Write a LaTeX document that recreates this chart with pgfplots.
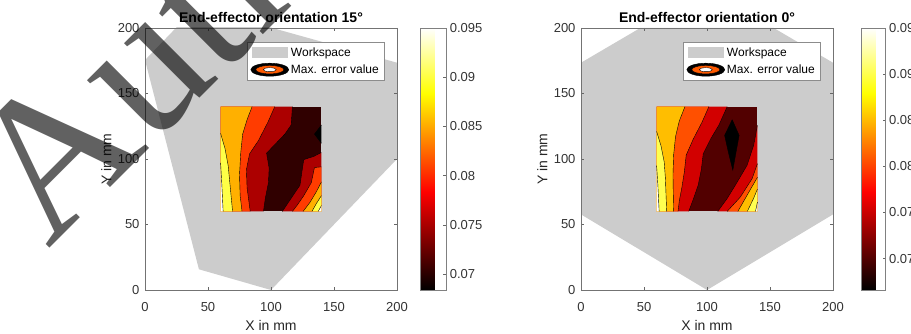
\documentclass[border=0pt]{standalone}
\usepackage{fontspec}
\setmainfont{Liberation Sans}
\newfontfamily\wmfont{Liberation Serif}
\usepackage{pgfplots}
\pgfplotsset{compat=1.18}
\pgfplotsset{/pgf/number format/assume math mode=true}
\definecolor{ws}{rgb}{0.8,0.8,0.8}
% left panel contour colours (hot colormap)
\definecolor{La}{RGB}{48,0,0}
\definecolor{Lb}{RGB}{172,0,0}
\definecolor{Lc}{RGB}{255,60,0}
\definecolor{Ld}{RGB}{255,176,0}
\definecolor{Le}{RGB}{255,255,70}
% right panel contour colours
\definecolor{Ra}{RGB}{82,0,0}
\definecolor{Rb}{RGB}{210,0,0}
\definecolor{Rc}{RGB}{255,80,0}
\definecolor{Rd}{RGB}{255,190,0}
\definecolor{Re}{RGB}{255,255,80}
\definecolor{iconorange}{RGB}{255,90,0}

\pgfplotsset{
  panel/.style={
    scale only axis, width=252pt, height=262pt,
    xmin=0, xmax=200, ymin=0, ymax=200,
    xtick={0,50,100,150,200}, ytick={0,50,100,150,200},
    tick align=inside, major tick length=3pt,
    axis line style={black!55, line width=0.6pt},
    every tick/.style={black!60, line width=0.5pt},
    tick label style={font=\fontsize{13}{15}\selectfont, text=black!80},
    label style={font=\fontsize{14}{16}\selectfont, text=black!85},
    title style={font=\fontsize{14}{16}\selectfont\bfseries, text=black, at={(axis description cs:0.5,1.0218)}, anchor=base, yshift=-6pt},
    xlabel style={at={(axis description cs:0.5,-0.1527)}, anchor=base},
    ylabel style={at={(axis description cs:-0.133,0.5)}, anchor=base},
    xticklabel style={yshift=-9pt}, yticklabel style={xshift=-2pt},
    xlabel={X in mm}, ylabel={Y in mm},
    axis on top,
    colormap/hot2,
    colorbar,
    point meta max=0.095,
    legend style={at={(axis description cs:1,1)}, anchor=north east, xshift=-13pt, yshift=-13.7pt,
      draw=black!45, fill=white, font=\fontsize{12}{14}\selectfont, inner xsep=3pt, inner ysep=3.5pt,
      row sep=3pt, nodes={inner sep=2pt}},
    legend cell align=left,
  },
  cbar/.style={
    colorbar style={at={(parent axis.north east)}, anchor=north west, xshift=#1,
      scale only axis, height=262pt,
      ytick={0.07,0.075,0.08,0.085,0.09,0.095}, scaled y ticks=false,
      yticklabel style={/pgf/number format/fixed, /pgf/number format/precision=3,
        font=\fontsize{13}{15}\selectfont, text=black!80},
      tick align=inside, major tick length=3pt, ytick pos=right,
      axis line style={black!50, line width=0.6pt},
      every tick/.style={black!60, line width=0.5pt}}
  },
  wslegend/.style={legend image code/.code={\fill[ws] (2pt,-5pt) rectangle (37pt,5pt);}},
  ctlegend/.style={legend image code/.code={
      \draw[black, fill=black] (20pt,0pt) ellipse [x radius=19pt, y radius=6.5pt];
      \draw[fill=iconorange, draw=black, line width=0.4pt] (20pt,0pt) ellipse [x radius=14pt, y radius=4.2pt];
      \draw[fill=white, draw=black, line width=0.4pt] (20pt,0pt) ellipse [x radius=6.5pt, y radius=2pt];}},
  ct/.style={black, line width=0.4pt, forget plot},
}

\begin{document}
\begin{tikzpicture}
\useasboundingbox (0pt,0pt) rectangle (911pt,334pt);

% ---------------- Left panel: orientation 15 deg ----------------
\begin{axis}[panel, at={(145pt,44pt)}, anchor=south west,
  title={End-effector orientation 15°},
  point meta min=0.0684, cbar={15pt}, colorbar style={width=25.7pt}]
\addlegendimage{wslegend}\addlegendentry{Workspace}
\addlegendimage{ctlegend}\addlegendentry{Max. error value}
% workspace
\addplot[fill=ws, draw=none, forget plot] coordinates {(42.8,15.8) (100,0) (230,130) (219.8,168.2) (40.7,216.2) (0,175.5)};
% contour fills
\addplot[fill=La, draw=none, forget plot] coordinates {(60,60) (140,60) (140,140) (60,140)};
\addplot[fill=black, draw=none, forget plot] coordinates {(140,126) (134.5,119) (140,112)};
\addplot[fill=Lb, draw=none, forget plot] coordinates {(60,140) (117,140) (116,126) (111,119) (104,112) (96.5,104.5) (98.5,93) (98,82) (95.5,70) (94,60) (60,60)};
\addplot[fill=Lb, draw=none, forget plot] coordinates {(140,105) (134,102) (126,99.5) (124.5,90) (123,80) (116,70) (109,60) (140,60)};
\addplot[fill=Lc, draw=none, forget plot] coordinates {(60,140) (103,140) (97.5,128) (90,114) (83,104) (80.5,92) (81,78) (83.5,60) (60,60)};
\addplot[fill=Lc, draw=none, forget plot] coordinates {(140,94) (134.5,93.5) (132,82) (126,72) (121,65) (117,60) (140,60)};
\addplot[fill=Ld, draw=none, forget plot] coordinates {(60,140) (85,140) (81,130) (77.5,119) (76,105) (75,88) (75.5,72) (77,60) (60,60)};
\addplot[fill=Ld, draw=none, forget plot] coordinates {(140,82.5) (136,75) (131,67) (125.5,60) (140,60)};
\addplot[fill=Le, draw=none, forget plot] coordinates {(60,119.5) (63.5,108) (66,95) (67.5,80) (69.5,60) (60,60)};
\addplot[fill=Le, draw=none, forget plot] coordinates {(140,72) (136,66) (132.5,60) (140,60)};
\addplot[fill=white, draw=none, forget plot] coordinates {(60,97) (61,80) (62,60) (60,60)};
\addplot[fill=white, draw=none, forget plot] coordinates {(140,64.5) (137.5,60) (140,60)};
% contour lines
\addplot[ct] coordinates {(140,126) (134.5,119) (140,112)};
\addplot[ct] coordinates {(117,140) (116,126) (111,119) (104,112) (96.5,104.5) (98.5,93) (98,82) (95.5,70) (94,60)};
\addplot[ct] coordinates {(140,105) (134,102) (126,99.5) (124.5,90) (123,80) (116,70) (109,60)};
\addplot[ct] coordinates {(103,140) (97.5,128) (90,114) (83,104) (80.5,92) (81,78) (83.5,60)};
\addplot[ct] coordinates {(140,94) (134.5,93.5) (132,82) (126,72) (121,65) (117,60)};
\addplot[ct] coordinates {(85,140) (81,130) (77.5,119) (76,105) (75,88) (75.5,72) (77,60)};
\addplot[ct] coordinates {(140,82.5) (136,75) (131,67) (125.5,60)};
\addplot[ct] coordinates {(60,119.5) (63.5,108) (66,95) (67.5,80) (69.5,60)};
\addplot[ct] coordinates {(140,72) (136,66) (132.5,60)};
\addplot[ct] coordinates {(60,97) (61,80) (62,60)};
\addplot[ct] coordinates {(140,64.5) (137.5,60)};
\end{axis}

% ---------------- Right panel: orientation 0 deg ----------------
\begin{axis}[panel, at={(581pt,44pt)}, anchor=south west,
  title={End-effector orientation 0°},
  point meta min=0.0666, cbar={20pt}, colorbar style={width=24pt}]
\addlegendimage{wslegend}\addlegendentry{Workspace}
\addlegendimage{ctlegend}\addlegendentry{Max. error value}
\addplot[fill=ws, draw=none, forget plot] coordinates {(100,0) (200,57.7) (200,173.5) (153,200) (47,200) (0,173.5) (0,57.7)};
\addplot[fill=Ra, draw=none, forget plot] coordinates {(60,60) (140,60) (140,140) (60,140)};
\addplot[fill=black, draw=none, forget plot] coordinates {(120,130) (125.5,118) (123,105) (120.5,91.5) (117,105) (114,118)};
\addplot[fill=Rb, draw=none, forget plot] coordinates {(60,140) (116,140) (109.5,126) (103,115.5) (97,104) (95.5,92) (93,80) (89,69) (85.5,60) (60,60)};
\addplot[fill=Rb, draw=none, forget plot] coordinates {(140,125.7) (137,110.4) (131.8,95.2) (122.5,80) (115.9,69.7) (108.5,60) (140,60)};
\addplot[fill=Rc, draw=none, forget plot] coordinates {(60,140) (101.5,140) (96,128) (89,115) (83.5,103) (82,90) (80,78) (78,68) (77,60) (60,60)};
\addplot[fill=Rc, draw=none, forget plot] coordinates {(140,96.4) (135.8,85) (126.5,71) (116,60) (140,60)};
\addplot[fill=Rd, draw=none, forget plot] coordinates {(60,140) (82.5,140) (78,129) (75,117) (73.5,103) (73,88) (73.2,75) (73.5,60) (60,60)};
\addplot[fill=Rd, draw=none, forget plot] coordinates {(140,86) (134,76) (124.5,60) (140,60)};
\addplot[fill=Re, draw=none, forget plot] coordinates {(60,121) (63.5,110) (66,98) (67,85) (67.5,72) (68,60) (60,60)};
\addplot[fill=Re, draw=none, forget plot] coordinates {(140,77) (137,70) (132,60) (140,60)};
\addplot[fill=white, draw=none, forget plot] coordinates {(60,95) (61,80) (61.5,70) (62,60) (60,60)};
\addplot[fill=white, draw=none, forget plot] coordinates {(140,67) (138.5,60) (140,60)};
\addplot[ct] coordinates {(120,130) (125.5,118) (123,105) (120.5,91.5) (117,105) (114,118) (120,130)};
\addplot[ct] coordinates {(116,140) (109.5,126) (103,115.5) (97,104) (95.5,92) (93,80) (89,69) (85.5,60)};
\addplot[ct] coordinates {(140,125.7) (137,110.4) (131.8,95.2) (122.5,80) (115.9,69.7) (108.5,60)};
\addplot[ct] coordinates {(101.5,140) (96,128) (89,115) (83.5,103) (82,90) (80,78) (78,68) (77,60)};
\addplot[ct] coordinates {(140,96.4) (135.8,85) (126.5,71) (116,60)};
\addplot[ct] coordinates {(82.5,140) (78,129) (75,117) (73.5,103) (73,88) (73.2,75) (73.5,60)};
\addplot[ct] coordinates {(140,86) (134,76) (124.5,60)};
\addplot[ct] coordinates {(60,121) (63.5,110) (66,98) (67,85) (67.5,72) (68,60)};
\addplot[ct] coordinates {(140,77) (137,70) (132,60)};
\addplot[ct] coordinates {(60,95) (61,80) (61.5,70) (62,60)};
\addplot[ct] coordinates {(140,67) (138.5,60)};
\end{axis}

% watermark
\node[rotate=45, anchor=base west, inner sep=0pt, text=black, opacity=0.62,
  font=\wmfont\fontsize{200}{200}\selectfont] at (48pt,84pt) {Author};
\end{tikzpicture}
\end{document}
